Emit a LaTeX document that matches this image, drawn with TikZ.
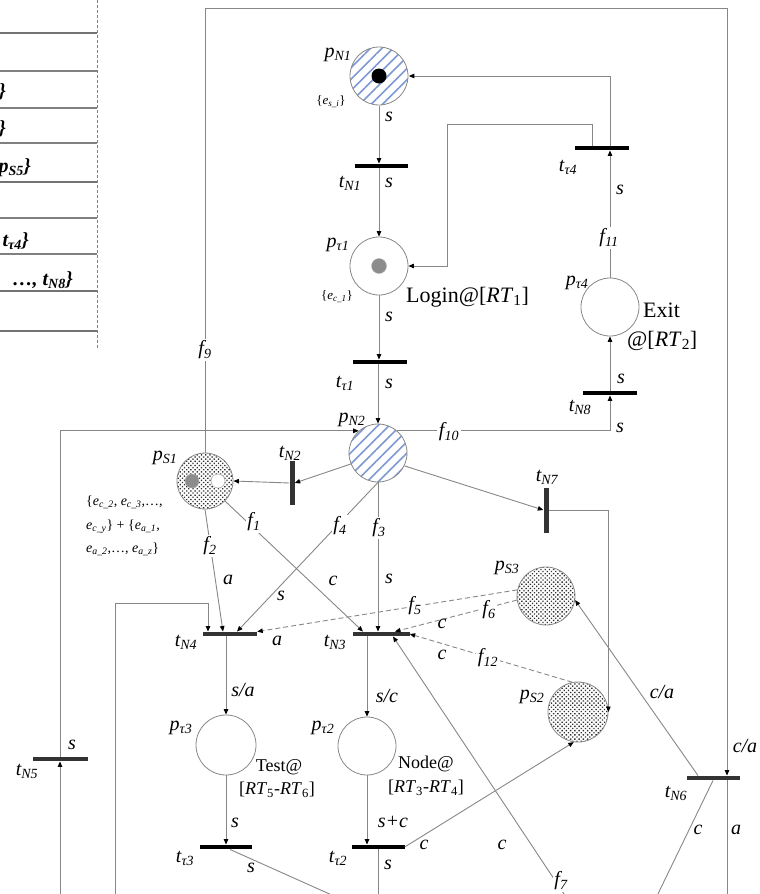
\documentclass[tikz,border=0pt]{standalone}
\usepackage{fontspec}
\setmainfont{Liberation Serif}
\usetikzlibrary{arrows.meta,patterns.meta}
\definecolor{stripeblue}{RGB}{125,152,210}
\definecolor{linegray}{RGB}{135,135,135}
\newcommand\tsub[2]{\textit{#1}\textsubscript{#2}}
\newcommand\ev[1]{\textit{e}\textsubscript{\textit{#1}}}
\begin{document}
\begin{tikzpicture}[x=1pt,y=-1pt,
  arc/.style={draw=linegray, line width=0.9pt, -{Triangle[length=5.5pt,width=4.5pt,black]}},
  plain/.style={draw=linegray, line width=0.9pt},
  darc/.style={arc, dash pattern=on 5pt off 3pt},
  place/.style={circle, draw=linegray, line width=0.8pt, inner sep=0, minimum size=58pt},
  striped/.style={place, pattern={Lines[angle=45,distance=8pt,line width=1.6pt]}, pattern color=stripeblue},
  dotty/.style={place, pattern={Dots[angle=45,distance=3pt,radius=0.95pt]}, pattern color=black!80},
  hbar/.style={rectangle, fill=black, inner sep=0, minimum width=54pt, minimum height=4.5pt},
  vbar/.style={rectangle, fill=black!80, inner sep=0, minimum width=5pt, minimum height=44pt},
  lbl/.style={font=\fontsize{20}{22}\selectfont\itshape, inner sep=0},
  lblw/.style={lbl, fill=white, inner sep=1.5pt},
  big/.style={font=\fontsize{22}{24}\selectfont, inner sep=0},
  mid/.style={font=\fontsize{18}{20}\selectfont, inner sep=0},
  small/.style={font=\fontsize{13}{15}\selectfont, inner sep=0},
  tbl/.style={lbl, font=\fontsize{20}{22}\selectfont\bfseries\itshape, anchor=east},
  tokb/.style={circle, fill=black, inner sep=0, minimum size=15pt},
  tokg/.style={circle, fill=black!45, draw=black!30, inner sep=0, minimum size=15pt},
  tokw/.style={circle, fill=white, draw=black!40, inner sep=0, minimum size=14pt}
]
\useasboundingbox (0,0) rectangle (760,894);
\clip (0,0) rectangle (760,894);

% ---- partial table on the left ----
\foreach \yy in {33,182,291,331} \draw[black!55, line width=2.5pt] (0,\yy) -- (97,\yy);
\foreach \yy in {71,108,143,218,254} \draw[black!50, line width=1.2pt] (0,\yy) -- (97,\yy);
\draw[black!50, line width=1pt, dash pattern=on 3pt off 2pt] (97,0) -- (97,348);
\node[tbl] (tb1) at (6,92) {\}};
\node[tbl] (tb2) at (6,129) {\}};
\node[tbl] (tb3) at (31,168) {\tsub{p}{S5}\}};
\node[tbl] (tb4) at (29,241) {\tsub{t}{τ4}\}};
\node[tbl] (tb5) at (73,280) {\ldots, \tsub{t}{N8}\}};

% ---- places ----
\node[striped] (pN1) at (379,76) {};
\node[tokb] (kN1) at (379,76) {};
\node[place] (pT1) at (379,266) {};
\node[tokg] (kT1) at (379,266) {};
\node[striped] (pN2) at (378,453) {};
\node[place] (pT4) at (610,307) {};
\node[dotty, minimum size=56pt] (pS1) at (205,481) {};
\node[tokg, minimum size=14pt] (kS1a) at (192,481) {};
\node[tokw] (kS1b) at (218,481) {};
\node[dotty] (pS3) at (546,596) {};
\node[dotty, minimum size=60pt] (pS2) at (578,712) {};
\node[place, minimum size=60pt] (pT3) at (226,745) {};
\node[place] (pT2) at (367,746) {};

% ---- transitions ----
\node[hbar, minimum width=53pt] (tN1) at (381,166) {};
\node[hbar] (tT1) at (380,362) {};
\node[hbar] (tT4) at (602,148) {};
\node[hbar] (tN8) at (610,393) {};
\node[vbar] (tN2) at (292,483) {};
\node[vbar, minimum height=45pt] (tN7) at (546,510) {};
\node[hbar, fill=black!80] (tN4) at (230,634) {};
\node[hbar, fill=black!80, minimum width=57pt] (tN3) at (381,634) {};
\node[hbar, minimum width=52pt] (tT3) at (226,847) {};
\node[hbar, minimum width=53pt] (tT2) at (378,847) {};
\node[hbar, fill=black!80, minimum width=55pt] (tN5) at (60,759) {};
\node[hbar, fill=black!80, minimum width=53pt] (tN6) at (713,778) {};

% ---- free-end coordinates ----
\coordinate (c1) at (447,124);
\coordinate (f9b) at (727,8);
\coordinate (bN5) at (60,900);
\coordinate (r1) at (115,603);
\coordinate (b115) at (115,900);
\coordinate (bT3) at (343,900);
\coordinate (bT2) at (378,900);
\coordinate (bF7) at (568,900);
\coordinate (bA) at (727,900);
\coordinate (bC) at (655,900);

% ---- connectors ----
\draw[arc] (pN1.south) -- (pN1.south |- tN1.north);
\draw[arc] (tN1.south -| pT1) -- (pT1.north);
\draw[arc] (pT1.south) -- (pT1.south |- tT1.north);
\draw[arc] (tT1.south -| pN2) -- (pN2.north);
\draw[arc] (pT4.north) -- (pT4.north |- tT4.south);
\draw[arc] (pT4.north |- tT4.north) |- (pN1.east);
\draw[arc] ([xshift=-10pt]tT4.north) |- (c1) |- (pT1.east);
\draw[arc] (pN2.49) -| (tN8.south);
\draw[arc] (tN8.north) -- (pT4.south);
\draw[arc] (bN5) -- (tN5.south);
\draw[arc] (tN5.north) |- (pN2.131);
\draw[arc] (pS1.north) |- (f9b) -- (f9b |- tN6.north);
\draw[plain] (f9b |- tN6.south) -- (bA);
\draw[arc] (pN2.202) -- (tN2.east);
\draw[arc] (tN2.west) -- (pS1.east);
\draw[arc] (pN2.-26) -- (tN7.west);
\draw[arc] (tN7.east) -| (pS2.east);
\draw[arc] (pS1.south) -- ([xshift=-7pt]tN4.north);
\draw[arc] (pS1.-45) -- ([xshift=-18pt]tN3.north);
\draw[arc] (pN2.south) -- ([xshift=7pt]tN4.north);
\draw[arc] (pN2.south) -- (pN2.south |- tN3.north);
\draw[darc] (pS3.168) -- (tN4.north east);
\draw[darc] (pS3.188) -- ([xshift=14pt]tN3.north);
\draw[darc] (pS2.101) -- (tN3.east);
\draw[arc] (tN4.south -| pT3) -- (pT3.north);
\draw[arc] (tN3.south -| pT2) -- (pT2.north);
\draw[arc] (pT3.south) -- (pT3.south |- tT3.north);
\draw[arc] (pT2.south) -- (pT2.south |- tT2.north);
\draw[arc] (tT2.east) -- (pS2.-98);
\draw[plain] ([xshift=4pt]tT3.south) -- (bT3);
\draw[plain] (tT2.south) -- (bT2);
\draw[arc] (b115) -- (r1) -| ([xshift=-22pt]tN4.north);
\draw[arc] (bF7) -- ([xshift=12pt]tN3.south);
\draw[arc] ([xshift=-15pt]tN6.north) -- (pS3.-8);
\draw[plain] (tN6.south) -- (bC);

% ---- labels ----
\node[lbl] (LpN1) at (338,55) {\tsub{p}{\textit{N}1}};
\node[small] (LeN1) at (331,102) {\{\ev{s\_i}\}};
\node[lbl] (L1) at (389,117) {s};
\node[lbl] (LtN1) at (350,183) {\tsub{t}{\textit{N}1}};
\node[lbl] (L2) at (389,183) {s};
\node[lbl] (LpT1) at (338,245) {\tsub{p}{τ1}};
\node[small] (LeT1) at (337,297) {\{\ev{c\_1}\}};
\node[big, anchor=west] (Llog) at (406,297) {Login@[\textit{RT}\textsubscript{1}]};
\node[lbl] (L3) at (389,317) {s};
\node[lbl] (LtT1) at (345,383) {\tsub{t}{τ1}};
\node[lbl] (L4) at (389,384) {s};
\node[lbl] (LpN2) at (352,420) {\tsub{p}{\textit{N}2}};
\node[lblw] (Lf10) at (449,432) {\tsub{f}{10}};
\node[lbl] (LtT4) at (568,167) {\tsub{t}{τ4}};
\node[lbl] (L5) at (620,190) {s};
\node[lblw] (Lf11) at (609,238) {\tsub{f}{11}};
\node[lbl] (LpT4) at (577,283) {\tsub{p}{τ4}};
\node[big, anchor=west] (Lexit) at (643,310) {Exit};
\node[big, anchor=west] (Lrt2) at (627,341) {@[\textit{RT}\textsubscript{2}]};
\node[lbl] (L6) at (621,379) {s};
\node[lbl] (LtN8) at (580,407) {\tsub{t}{\textit{N}8}};
\node[lbl] (L7) at (620,428) {s};
\node[lblw] (Lf9) at (205,350) {\tsub{f}{9}};
\node[lbl] (LpS1) at (165,458) {\tsub{p}{\textit{S}1}};
\node[lbl] (LtN2) at (290,453) {\tsub{t}{\textit{N}2}};
\node[small, align=left, anchor=west, font=\fontsize{14}{23.5}\selectfont] (LeS1) at (86,526)
  {\{\ev{c\_2}, \ev{c\_3},\ldots,\\ \ev{c\_y}\} + \{\ev{a\_1},\\ \ev{a\_2},\ldots, \ev{a\_z}\}};
\node[lblw] (Lf2) at (210,546) {\tsub{f}{2}};
\node[lbl] (L8) at (228,580) {a};
\node[lblw] (Lf1) at (254,522) {\tsub{f}{1}};
\node[lblw] (Lf4) at (340,526) {\tsub{f}{4}};
\node[lblw] (Lf3) at (379,528) {\tsub{f}{3}};
\node[lbl] (LtN7) at (547,477) {\tsub{t}{\textit{N}7}};
\node[lbl] (L9) at (333,581) {c};
\node[lbl] (L10) at (281,596) {s};
\node[lbl] (L11) at (389,579) {s};
\node[lbl] (LpS3) at (507,568) {\tsub{p}{\textit{S}3}};
\node[lblw] (Lf5) at (415,606) {\tsub{f}{5}};
\node[lblw] (Lf6) at (489,610) {\tsub{f}{6}};
\node[lbl] (L12) at (442,624) {c};
\node[lbl] (L13) at (442,655) {c};
\node[lblw] (Lf12) at (488,658) {\tsub{f}{12}};
\node[lbl] (LtN4) at (186,642) {\tsub{t}{\textit{N}4}};
\node[lbl] (L14) at (277,641) {a};
\node[lbl] (LtN3) at (335,642) {\tsub{t}{\textit{N}3}};
\node[lbl] (L15) at (243,690) {s/a};
\node[lbl] (L16) at (387,696) {s/c};
\node[lbl] (LpS2) at (532,697) {\tsub{p}{\textit{S}2}};
\node[lbl] (L17) at (662,692) {c/a};
\node[lbl] (LpT3) at (181,728) {\tsub{p}{τ3}};
\node[mid] (Ltest) at (279,767) {Test@};
\node[mid] (Lrt56) at (277,790) {[\textit{RT}\textsubscript{5}-\textit{RT}\textsubscript{6}]};
\node[lbl] (LpT2) at (323,728) {\tsub{p}{τ2}};
\node[mid] (Lnode) at (426,764) {Node@};
\node[mid] (Lrt34) at (426,788) {[\textit{RT}\textsubscript{3}-\textit{RT}\textsubscript{4}]};
\node[lbl] (LtN5) at (27,771) {\tsub{t}{\textit{N}5}};
\node[lbl] (L18) at (72,745) {s};
\node[lbl] (L19) at (745,746) {c/a};
\node[lbl] (LtN6) at (676,793) {\tsub{t}{\textit{N}6}};
\node[lbl] (L20) at (235,823) {s};
\node[lbl] (L21) at (393,822) {s+c};
\node[lbl] (LtT3) at (185,858) {\tsub{t}{τ3}};
\node[lbl] (L22) at (251,868) {s};
\node[lbl] (LtT2) at (338,858) {\tsub{t}{τ2}};
\node[lbl] (L23) at (388,865) {s};
\node[lbl] (L24) at (424,845) {c};
\node[lbl] (L25) at (502,845) {c};
\node[lblw] (Lf7) at (561,881) {\tsub{f}{7}};
\node[lbl] (L26) at (698,830) {c};
\node[lbl] (L27) at (736,830) {a};
\end{tikzpicture}
\end{document}
